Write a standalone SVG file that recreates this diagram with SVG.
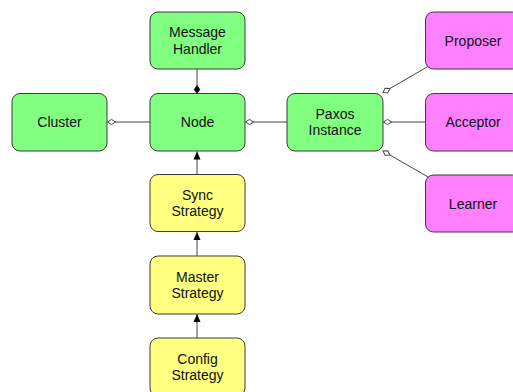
<svg xmlns="http://www.w3.org/2000/svg" width="513" height="392" viewBox="0 0 513 392">
<style>
.box{stroke:#3a3a3a;stroke-width:1}
.g{fill:#80FF80}.y{fill:#FFFF80}.m{fill:#FF80FF}
text{font-family:"Liberation Sans",Arial,sans-serif;font-size:14px;fill:#111;text-anchor:middle}
.c line{stroke:#444;stroke-width:1}
</style>
<defs>
<marker id="hd" markerUnits="userSpaceOnUse" markerWidth="12" markerHeight="8" viewBox="-1 -4 11 8" refX="0" refY="0" orient="auto">
<path d="M0,0 L4,-2.6 L8,0 L4,2.6 Z" fill="#fff" stroke="#444" stroke-width="1"/>
</marker>
<marker id="fd" markerUnits="userSpaceOnUse" markerWidth="12" markerHeight="8" viewBox="-1 -4 11 8" refX="0" refY="0" orient="auto">
<path d="M0,0 L4,-3 L8,0 L4,3 Z" fill="#000" stroke="#000" stroke-width="0.5"/>
</marker>
<marker id="ar" markerUnits="userSpaceOnUse" markerWidth="12" markerHeight="10" viewBox="0 -5 10 10" refX="8" refY="0" orient="auto">
<path d="M0,-3.5 L8,0 L0,3.5 Z" fill="#000"/>
</marker>
</defs>
<g class="c" id="connectors">
<line x1="197" y1="93.5" x2="197" y2="69" marker-start="url(#fd)"/>
<line x1="107.5" y1="122" x2="150" y2="122" marker-start="url(#hd)"/>
<line x1="245.5" y1="122" x2="287" y2="122" marker-start="url(#hd)"/>
<line x1="383.5" y1="122" x2="425" y2="122" marker-start="url(#hd)"/>
<line x1="383" y1="92.5" x2="428" y2="66.5" marker-start="url(#hd)"/>
<line x1="383" y1="151" x2="428" y2="177" marker-start="url(#hd)"/>
<line x1="197" y1="174" x2="197" y2="151.5" marker-end="url(#ar)"/>
<line x1="197" y1="256" x2="197" y2="232" marker-end="url(#ar)"/>
<line x1="197" y1="338" x2="197" y2="314" marker-end="url(#ar)"/>
</g>
<g id="message-handler"><rect class="box g" x="150" y="12" width="95" height="57" rx="8"/><text x="197.5" y="37">Message</text><text x="197.5" y="54">Handler</text></g>
<g id="node"><rect class="box g" x="150" y="93.5" width="95" height="57.5" rx="8"/><text x="197.5" y="127">Node</text></g>
<g id="cluster"><rect class="box g" x="12" y="93.5" width="95" height="57.5" rx="8"/><text x="59.5" y="127">Cluster</text></g>
<g id="paxos-instance"><rect class="box g" x="287" y="93.5" width="96" height="57.5" rx="8"/><text x="335" y="119">Paxos</text><text x="335" y="135">Instance</text></g>
<g id="proposer"><rect class="box m" x="425.5" y="12" width="95" height="57" rx="8"/><text x="473" y="46">Proposer</text></g>
<g id="acceptor"><rect class="box m" x="425.5" y="93.5" width="95" height="57.5" rx="8"/><text x="473" y="127">Acceptor</text></g>
<g id="learner"><rect class="box m" x="425.5" y="175" width="95" height="57" rx="8"/><text x="473" y="209">Learner</text></g>
<g id="sync-strategy"><rect class="box y" x="150" y="174.5" width="95" height="57" rx="8"/><text x="197.5" y="200">Sync</text><text x="197.5" y="216">Strategy</text></g>
<g id="master-strategy"><rect class="box y" x="150" y="256" width="95" height="58" rx="8"/><text x="197.5" y="282">Master</text><text x="197.5" y="298">Strategy</text></g>
<g id="config-strategy"><rect class="box y" x="150" y="338" width="95" height="58" rx="8"/><text x="197.5" y="364">Config</text><text x="197.5" y="380">Strategy</text></g>
</svg>
